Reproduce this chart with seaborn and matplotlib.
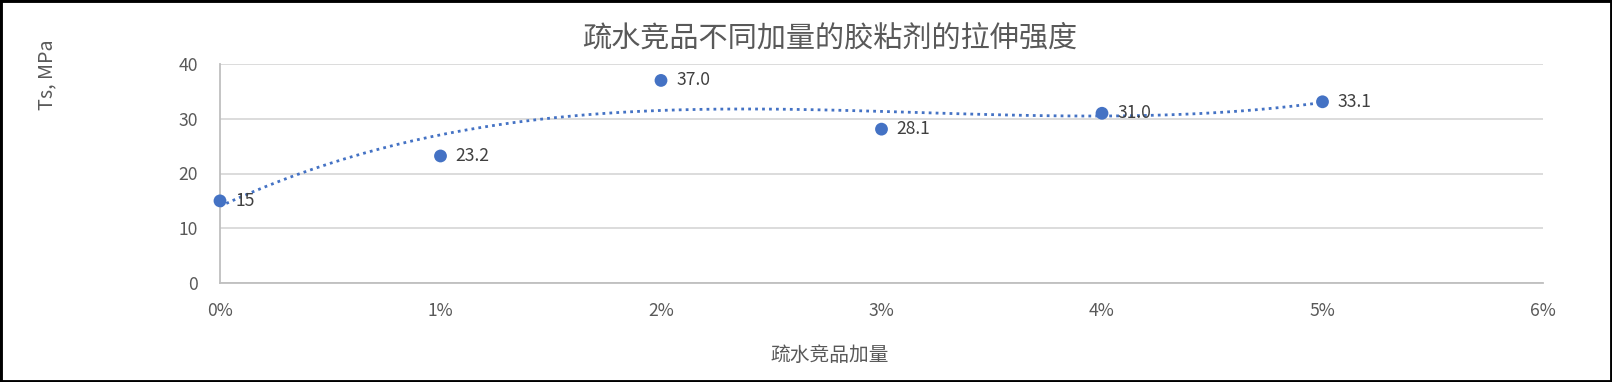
import matplotlib
matplotlib.use("Agg")
import matplotlib.pyplot as plt
import seaborn as sns
import pandas as pd
from matplotlib.patches import Rectangle
from matplotlib.ticker import FuncFormatter, MultipleLocator

# ---- data ----
dosage_pct = [0, 1, 2, 3, 4, 5]
strength = [15.0, 23.2, 37.0, 28.1, 31.0, 33.1]
point_labels = ["15", "23.2", "37.0", "28.1", "31.0", "33.1"]
title = "疏水竞品不同加量的胶粘剂的拉伸强度"
x_label = "疏水竞品加量"
y_label = "Ts, MPa"

df = pd.DataFrame({"dosage": dosage_pct, "ts": strength})

sns.set_theme(style="white")
plt.rcParams["font.family"] = ["Noto Sans CJK SC", "DejaVu Sans"]

BLUE = "#4472C4"
GRAY = "#595959"

fig = plt.figure(figsize=(16.12, 3.82), dpi=100)
ax = fig.add_axes([220 / 1612, 1 - 283 / 382, (1543 - 220) / 1612, (283 - 64) / 382])

# trendline (cubic polynomial)
sns.regplot(data=df, x="dosage", y="ts", order=3, ci=None, scatter=False, ax=ax,
            line_kws=dict(color=BLUE, linestyle=(0, (1, 1.5)), linewidth=2.0))
# points
sns.scatterplot(data=df, x="dosage", y="ts", ax=ax, color=BLUE, s=85,
                edgecolor="none", zorder=5, clip_on=False)

for xv, yv, lab in zip(dosage_pct, strength, point_labels):
    ax.annotate(lab, (xv, yv), xytext=(11, 0), textcoords="offset points",
                va="center", ha="left", fontsize=12.6, color="#404040", zorder=6)

ax.set_xlim(0, 6)
ax.set_ylim(0, 40)
ax.xaxis.set_major_locator(MultipleLocator(1))
ax.yaxis.set_major_locator(MultipleLocator(10))
ax.xaxis.set_major_formatter(FuncFormatter(lambda v, p: f"{v:.0f}%"))

ax.grid(axis="y", color="#D9D9D9", linewidth=1.3)
ax.grid(axis="x", visible=False)
ax.set_axisbelow(True)
for s in ["top", "right"]:
    ax.spines[s].set_visible(False)
for s in ["left", "bottom"]:
    ax.spines[s].set_color("#BFBFBF")
    ax.spines[s].set_linewidth(1.3)
ax.tick_params(axis="both", length=0, labelsize=12.6, labelcolor=GRAY)
ax.tick_params(axis="x", pad=14)
ax.tick_params(axis="y", pad=16)
ax.set_xlabel("")
ax.set_ylabel("")

fig.text(830 / 1612, 1 - 39 / 382, title, ha="center", va="center",
         fontsize=21, color=GRAY)
fig.text(830 / 1612, 1 - 355 / 382, x_label, ha="center", va="center",
         fontsize=14.2, color=GRAY)
fig.text(47 / 1612, 1 - 75 / 382, y_label, ha="center", va="center",
         rotation=90, fontsize=14.2, color=GRAY)

fig.patches.append(Rectangle((0, 0), 1, 1, transform=fig.transFigure,
                             fill=False, edgecolor="black", linewidth=3.5))

fig.savefig("out.png", dpi=100)
